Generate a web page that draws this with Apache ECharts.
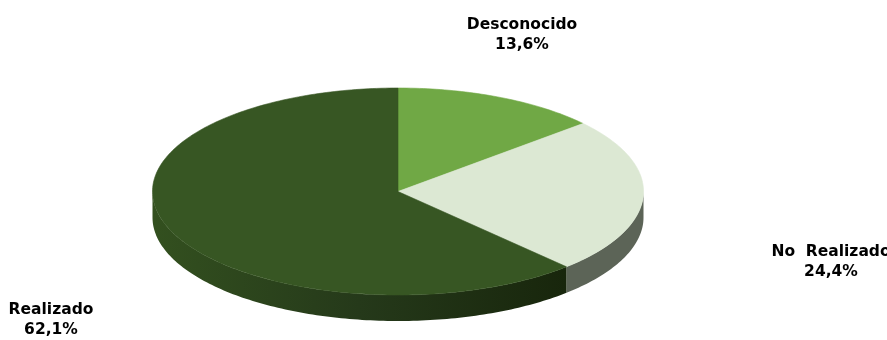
<!DOCTYPE html>
<html>
<head>
<meta charset="utf-8">
<script src="https://cdn.jsdelivr.net/npm/echarts@6/dist/echarts.min.js"></script>
<style>
  html, body { margin: 0; padding: 0; background: #ffffff; }
  #chart { width: 887px; height: 340px; }
</style>
</head>
<body>
<div id="chart"></div>
<script>
// Slices, clockwise from 12 o'clock
const categories = ['Desconocido', 'No  Realizado', 'Realizado'];
const shares = [13.6, 24.4, 62.1];

// Top-face colours and rim colours of each slice
const topColors = ['#70a845', '#dce8d3', '#375623'];
const rimColors = [
  '#4c7a2c',
  '#5c6457',
  { type: 'linear', x: 0, y: 0, x2: 1, y2: 0, colorStops: [
      { offset: 0, color: '#33501f' },
      { offset: 0.5, color: '#25391a' },
      { offset: 1, color: '#18260c' }
  ] }
];

// Where each two-line label block is centred
const labelAnchors = [[522, 34.5], [831, 261.5], [51, 319.5]];

// Tilted disc geometry
const disc = { cx: 398, cy: 191.5, rx: 245.5, ry: 103.5, depth: 26 };

function fmtShare(v) {
  return v.toFixed(1).replace('.', ',') + '%';
}

function arcPoints(a0, a1, dy) {
  const pts = [];
  const steps = Math.max(2, Math.ceil((a1 - a0) / (Math.PI / 180)));
  for (let k = 0; k <= steps; k++) {
    const a = a0 + (a1 - a0) * k / steps;
    pts.push([disc.cx + disc.rx * Math.sin(a), disc.cy - disc.ry * Math.cos(a) + dy]);
  }
  return pts;
}

const total = shares.reduce((s, v) => s + v, 0);

function renderSlice(params, api) {
  const i = params.dataIndex;
  let before = 0;
  for (let k = 0; k < i; k++) before += shares[k];
  const value = api.value(0);
  const a0 = before / total * Math.PI * 2;
  const a1 = (before + value) / total * Math.PI * 2;
  const children = [];

  // Visible rim: only the front half of the disc (angles between 90° and 270°)
  const s0 = Math.max(a0, Math.PI / 2);
  const s1 = Math.min(a1, Math.PI * 1.5);
  if (s1 > s0) {
    const upper = arcPoints(s0, s1, 0);
    const lower = arcPoints(s0, s1, disc.depth).reverse();
    children.push({
      type: 'polygon',
      z2: 1,
      shape: { points: upper.concat(lower) },
      style: { fill: rimColors[i], stroke: null }
    });
  }

  // Top face
  children.push({
    type: 'polygon',
    z2: 10,
    shape: { points: [[disc.cx, disc.cy]].concat(arcPoints(a0, a1, 0)) },
    style: { fill: topColors[i], stroke: topColors[i], lineWidth: 0.6 }
  });

  // Category name and share
  children.push({
    type: 'text',
    z2: 20,
    style: {
      text: categories[i] + '\n' + fmtShare(value),
      x: labelAnchors[i][0],
      y: labelAnchors[i][1],
      align: 'center',
      verticalAlign: 'middle',
      lineHeight: 20,
      font: 'bold 15.5px "DejaVu Sans"',
      fill: '#000000'
    }
  });

  return { type: 'group', children: children };
}

const chart = echarts.init(document.getElementById('chart'), null, { renderer: 'canvas' });
chart.setOption({
  animation: false,
  backgroundColor: '#ffffff',
  series: [{
    type: 'custom',
    coordinateSystem: 'none',
    silent: true,
    renderItem: renderSlice,
    data: shares.map(v => [v])
  }]
});
</script>
</body>
</html>
